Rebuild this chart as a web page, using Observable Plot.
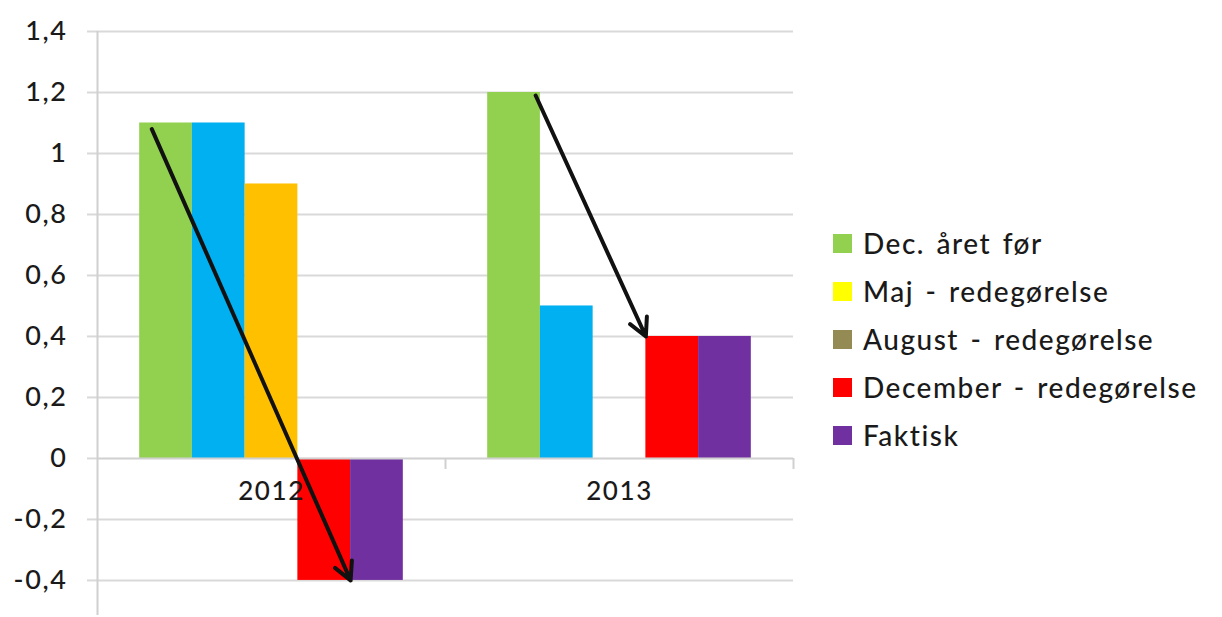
<!DOCTYPE html>
<html><head><meta charset="utf-8">
<script src="https://cdn.jsdelivr.net/npm/d3@7"></script>
<script src="https://cdn.jsdelivr.net/npm/@observablehq/plot@0.6"></script>
<style>
body{margin:0;background:#fff;font-family:Lato,"Open Sans",sans-serif;}
#wrap{position:relative;width:1222px;height:617px;overflow:hidden;}
#legend{position:absolute;left:833px;top:219px;}
.item{display:flex;align-items:center;height:48px;font-size:28px;color:#1a1a1a;font-family:Lato,sans-serif;letter-spacing:1.5px;font-weight:500;word-spacing:3px;}
.sw{width:19px;height:19px;margin-right:11px;flex:none;}
</style></head>
<body><div id="wrap"><div id="chart"></div><div id="legend"></div></div>
<script>
const years = ["2012", "2013"];
const series = ["Dec. året før", "Maj - redegørelse", "August - redegørelse", "December - redegørelse", "Faktisk"];
const barColors = ["#92D050", "#00B0F0", "#FFC000", "#FF0000", "#7030A0"];
const legendColors = ["#92D050", "#FFFF00", "#948A54", "#FF0000", "#7030A0"];
const values2012 = [1.1, 1.1, 0.9, -0.4, -0.4];
const values2013 = [1.2, 0.5, null, 0.4, 0.4];
const yTicks = [-0.4, -0.2, 0, 0.2, 0.4, 0.6, 0.8, 1, 1.2, 1.4];
const yDomain = [-0.515, 1.4];
// arrows: start/end given as (series position, value)
const arrowYears = ["2012", "2013"];
const arrowFromPos = [0.23, 0.91];
const arrowFromValue = [1.08, 1.19];
const arrowToPos = [4, 3];
const arrowToValue = [-0.4, 0.4];

const valuesByYear = {"2012": values2012, "2013": values2013};
const rows = [];
years.forEach(y => valuesByYear[y].forEach((v, i) => {
  if (v != null) rows.push({year: y, series: series[i], i, value: v});
}));
const arrows = arrowYears.map((y, k) => ({year: y, x1: arrowFromPos[k], y1: arrowFromValue[k], x2: arrowToPos[k], y2: arrowToValue[k]}));
const xDomain = [-0.8, series.length + 0.8];
const yearRows = years.map(y => ({year: y}));
const fmt = d => String(d).replace(".", ",");

const chart = Plot.plot({
  width: 1222,
  height: 617,
  marginLeft: 97,
  marginRight: 429,
  marginTop: 31,
  marginBottom: 2,
  style: {fontFamily: "Lato, sans-serif", background: "#fff", letterSpacing: "1.6px", fontWeight: 500},
  fx: {domain: years, padding: 0, axis: null},
  x: {domain: xDomain, axis: null},
  y: {domain: yDomain, axis: null},
  marks: [
    Plot.ruleY(yTicks.filter(t => t !== 0), {stroke: "#d9d9d9", strokeWidth: 2}),
    Plot.axisY({ticks: yTicks, tickSize: 10, tickPadding: 20, tickFormat: fmt, stroke: "#d9d9d9", strokeWidth: 2, fill: "#1a1a1a", fontSize: 27, anchor: "left"}),
    Plot.ruleX([{year: "2012"}], {fx: "year", x: () => xDomain[0], y1: yDomain[0], y2: yDomain[1], stroke: "#d0d0d0", strokeWidth: 2}),
    Plot.rectY(rows, {fx: "year", x1: d => d.i, x2: d => d.i + 1, y1: 0, y2: "value", fill: d => barColors[d.i]}),
    Plot.ruleY([0], {stroke: "#d0d0d0", strokeWidth: 2}),
    Plot.ruleX(yearRows, {fx: "year", x: () => xDomain[1], y1: 0, y2: 0, insetBottom: -11, stroke: "#d0d0d0", strokeWidth: 2}),
    Plot.text(yearRows, {fx: "year", x: () => series.length / 2, y: 0, dy: 33, text: "year", fontSize: 26, fill: "#1a1a1a"}),
    Plot.arrow(arrows, {fx: "year", x1: "x1", y1: "y1", x2: "x2", y2: "y2", stroke: "#111", strokeWidth: 4, headLength: 7.5, headAngle: 55})
  ]
});
document.getElementById("chart").appendChild(chart);

const legend = document.getElementById("legend");
series.forEach((s, i) => {
  const it = document.createElement("div");
  it.className = "item";
  const sw = document.createElement("div");
  sw.className = "sw";
  sw.style.background = legendColors[i];
  const tx = document.createElement("span");
  tx.textContent = s;
  it.appendChild(sw); it.appendChild(tx);
  legend.appendChild(it);
});
</script>
</body></html>
